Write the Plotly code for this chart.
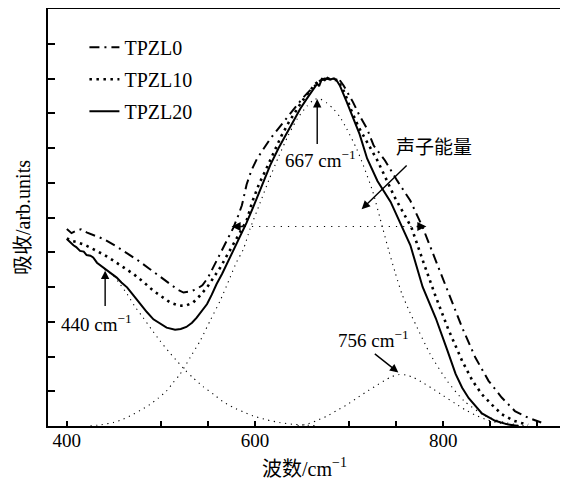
import plotly.graph_objects as go

# ---------------- data ----------------
tpzl20_x = [400, 403, 407, 410, 414, 418, 421, 425, 428, 432, 436, 439, 446, 453, 458, 464, 471, 478, 485, 492,
            499, 506, 515, 521, 527, 533, 538, 543, 549, 554, 559, 565, 570, 577, 584, 591, 598, 607, 616, 625,
            634, 641, 648, 655, 662, 666, 668, 671, 674, 677, 680, 683, 686, 690, 697, 704, 711, 719, 730, 744,
            756, 765, 778, 792, 804, 813, 820, 827, 841, 855, 869, 880]
tpzl20_y = [5.38, 5.30, 5.20, 5.15, 5.04, 5.02, 4.92, 4.90, 4.85, 4.70, 4.62, 4.56, 4.42, 4.27, 4.13, 3.99, 3.75, 3.51, 3.28, 3.07,
            2.94, 2.83, 2.77, 2.79, 2.85, 2.97, 3.12, 3.30, 3.51, 3.78, 4.08, 4.38, 4.66, 5.05, 5.45, 5.85, 6.30, 6.90, 7.50, 8.00,
            8.45, 8.80, 9.13, 9.42, 9.70, 9.85, 9.78, 9.99, 9.95, 10.02, 9.97, 10.00, 9.97, 9.80, 9.35, 8.90, 8.40, 7.70, 7.05, 6.45,
            5.72, 5.20, 4.00, 3.10, 2.20, 1.50, 1.10, 0.80, 0.36, 0.15, 0.04, 0.0]

tpzl10_x = [400, 405, 410, 420, 428, 440, 450, 460, 471, 482, 492, 501, 510, 520, 527, 534, 541, 549, 556, 563,
            570, 577, 584, 591, 597, 604, 611, 620, 628, 636, 643, 650, 657, 664, 670, 676, 682, 688, 695, 702,
            710, 720, 730, 748, 766, 779, 791, 805, 820, 831, 841, 852, 862, 875, 890]
tpzl10_y = [5.40, 5.33, 5.30, 5.20, 5.09, 4.92, 4.75, 4.56, 4.37, 4.13, 3.89, 3.72, 3.55, 3.46, 3.47, 3.55, 3.74, 3.99, 4.27, 4.56,
            4.90, 5.24, 5.58, 5.91, 6.45, 6.95, 7.35, 7.90, 8.35, 8.75, 9.05, 9.35, 9.60, 9.85, 9.97, 10.00, 9.97, 9.95, 9.60, 9.10,
            8.60, 8.10, 7.64, 6.60, 5.72, 4.70, 3.79, 2.80, 1.87, 1.30, 0.91, 0.60, 0.34, 0.15, 0.03]

tpzl0_x = [400, 405, 410, 415, 421, 430, 439, 452, 463, 476, 488, 500, 510, 518, 524, 531, 538, 544, 550, 556,
           563, 570, 577, 582, 586, 591, 596, 602, 609, 616, 623, 630, 637, 644, 651, 658, 664, 669, 674, 680,
           686, 690, 694, 704, 711, 719, 726, 738, 751, 765, 778, 792, 806, 820, 834, 848, 862, 876, 890, 904]
tpzl0_y = [5.67, 5.55, 5.62, 5.66, 5.57, 5.48, 5.38, 5.18, 4.99, 4.76, 4.52, 4.28, 4.08, 3.92, 3.84, 3.87, 3.94, 4.05, 4.27, 4.60,
           4.95, 5.35, 5.71, 6.05, 6.35, 6.95, 7.35, 7.69, 7.98, 8.26, 8.50, 8.74, 8.98, 9.22, 9.45, 9.65, 9.82, 9.94, 10.0, 9.98,
           10.0, 9.95, 9.80, 9.32, 8.93, 8.55, 8.07, 7.64, 7.06, 6.48, 5.72, 4.75, 3.79, 2.83, 1.97, 1.30, 0.82, 0.43, 0.24, 0.10]

# fitted components
comp440_x = [440, 448, 456, 464, 472, 481, 490, 499, 508, 517, 526, 534, 545, 556, 566, 577, 588, 598, 612, 626, 640, 651, 665]
comp440_y = [4.50, 4.37, 4.10, 3.80, 3.45, 3.12, 2.78, 2.45, 2.15, 1.87, 1.60, 1.39, 1.13, 0.91, 0.70, 0.53, 0.40, 0.29, 0.18, 0.10, 0.05, 0.03, 0.01]

comp667_x = [425, 437, 449.5, 460, 470.7, 480, 488.4, 497, 506, 513, 520.3, 531, 541.6, 552.2, 562.8, 573.4, 580, 587.6, 594.6,
             605, 615, 625, 635, 645, 655, 663, 669, 676, 683, 690, 697.4, 708, 715, 725, 735, 742, 749, 756, 764, 771,
             786, 804, 822, 844, 865, 880]
comp667_y = [0.0, 0.04, 0.10, 0.20, 0.34, 0.48, 0.62, 0.80, 1.01, 1.25, 1.49, 1.97, 2.45, 3.03, 3.60, 4.27, 4.70, 5.09, 5.67,
             6.40, 7.10, 7.75, 8.35, 8.85, 9.20, 9.40, 9.41, 9.30, 9.13, 8.90, 8.55, 7.97, 7.50, 6.75, 5.75, 5.05, 4.40, 3.80, 3.30, 2.90,
             2.07, 1.30, 0.72, 0.30, 0.10, 0.03]

comp756_x = [645, 655, 665, 676, 687, 697, 708, 718, 728, 737, 745, 753, 760, 768, 778, 790, 800, 812, 823, 835, 847, 860, 875, 890]
comp756_y = [0.0, 0.05, 0.15, 0.28, 0.45, 0.60, 0.80, 0.98, 1.15, 1.30, 1.42, 1.48, 1.47, 1.40, 1.25, 1.05, 0.87, 0.66, 0.47, 0.30, 0.17, 0.08, 0.03, 0.0]

# phonon-energy span (dotted line with arrows)
phonon_x = [575, 782]
phonon_y = 5.74

# labels and their arrows
label_text = ["440 cm<sup>−1</sup>", "667 cm<sup>−1</sup>", "756 cm<sup>−1</sup>", "声子能量"]
label_x = [432, 669, 726, 790]
label_y = [2.97, 7.69, 2.50, 8.02]
arrow_tail_x = [440.7, 666, 725.6, 762.6]
arrow_tail_y = [3.41, 8.07, 2.11, 7.54]
arrow_tip_x = [440.7, 666, 752.2, 713.2]
arrow_tip_y = [4.47, 9.41, 1.54, 6.24]

x_tickvals = [400, 500, 550, 600, 700, 750, 800, 850, 900]
x_ticktext = ["400", "", "", "600", "", "", "800", "", ""]
y_tickvals = list(range(0, 13))

SERIF = "Liberation Serif, Times New Roman, Noto Sans CJK SC, serif"
MIXED = "Liberation Serif, Noto Sans CJK SC, serif"

fig = go.Figure()

fig.add_trace(go.Scatter(x=tpzl0_x, y=tpzl0_y, mode="lines", name="TPZL0", legendgroup="a",
                         line=dict(color="black", width=2, dash="10px,5px,2px,5px")))
fig.add_trace(go.Scatter(x=tpzl10_x, y=tpzl10_y, mode="lines", name="TPZL10", legendgroup="b",
                         line=dict(color="black", width=2.6, dash="2.5px,4.5px")))
fig.add_trace(go.Scatter(x=tpzl20_x, y=tpzl20_y, mode="lines", name="TPZL20", legendgroup="c",
                         line=dict(color="black", width=2)))

for cx, cy in [(comp440_x, comp440_y), (comp667_x, comp667_y), (comp756_x, comp756_y)]:
    fig.add_trace(go.Scatter(x=cx, y=cy, mode="lines", showlegend=False, hoverinfo="skip",
                             line=dict(color="black", width=1.1, dash="1.2px,4.5px", shape="spline", smoothing=0.6)))

# phonon energy dotted line
fig.add_trace(go.Scatter(x=[phonon_x[0] + 14, phonon_x[1] - 12], y=[phonon_y, phonon_y], mode="lines",
                         showlegend=False, hoverinfo="skip",
                         line=dict(color="black", width=1.1, dash="1.2px,6px")))

annotations = []
for t, lx, ly in zip(label_text, label_x, label_y):
    annotations.append(dict(x=lx, y=ly, xref="x", yref="y", text=t, showarrow=False,
                            font=dict(family=MIXED, size=19, color="black")))
for tx, ty, hx, hy in zip(arrow_tail_x, arrow_tail_y, arrow_tip_x, arrow_tip_y):
    annotations.append(dict(x=hx, y=hy, ax=tx, ay=ty, xref="x", yref="y", axref="x", ayref="y",
                            text="", showarrow=True, arrowhead=2, arrowsize=1.2, arrowwidth=1.4,
                            arrowcolor="black", standoff=0, startstandoff=0))
# arrowheads at the ends of the phonon span
annotations.append(dict(x=phonon_x[0], y=phonon_y, ax=phonon_x[0] + 14, ay=phonon_y, xref="x", yref="y",
                        axref="x", ayref="y", text="", showarrow=True, arrowhead=2, arrowsize=1.3,
                        arrowwidth=1.4, arrowcolor="black"))
annotations.append(dict(x=phonon_x[1], y=phonon_y, ax=phonon_x[1] - 12, ay=phonon_y, xref="x", yref="y",
                        axref="x", ayref="y", text="", showarrow=True, arrowhead=2, arrowsize=1.3,
                        arrowwidth=1.4, arrowcolor="black"))

# the page body adds an 8px margin, so the figure is sized to fit the window
fig.update_layout(
    width=560, height=480,
    margin=dict(l=40, r=7, t=1, b=62, autoexpand=False),
    paper_bgcolor="white", plot_bgcolor="white",
    font=dict(family=SERIF, size=19, color="black"),
    showlegend=True,
    legend=dict(x=0.071, y=0.955, xanchor="left", yanchor="top", bgcolor="rgba(0,0,0,0)",
                font=dict(family=SERIF, size=20, color="black"), tracegroupgap=3,
                traceorder="grouped"),
    annotations=annotations,
)

fig.update_xaxes(range=[380, 925], tickmode="array", tickvals=x_tickvals, ticktext=x_ticktext,
                 ticks="inside", ticklen=5, tickwidth=1.5, tickcolor="black",
                 showline=True, linewidth=2, linecolor="black", mirror=True,
                 showgrid=False, zeroline=False, automargin=False,
                 tickfont=dict(family=SERIF, size=19, color="black"), ticklabelstandoff=-4,
                 title=dict(text="波数/cm<sup>−1</sup>", font=dict(family=MIXED, size=20, color="black"), standoff=12))
fig.update_yaxes(range=[0, 12], tickmode="array", tickvals=y_tickvals, showticklabels=False,
                 ticks="inside", ticklen=7, tickwidth=1.5, tickcolor="black",
                 showline=True, linewidth=2, linecolor="black", mirror=True,
                 showgrid=False, zeroline=False, automargin=False,
                 title=dict(text="吸收/arb.units", font=dict(family=MIXED, size=20, color="black"), standoff=10))

fig.write_html("out.html")
